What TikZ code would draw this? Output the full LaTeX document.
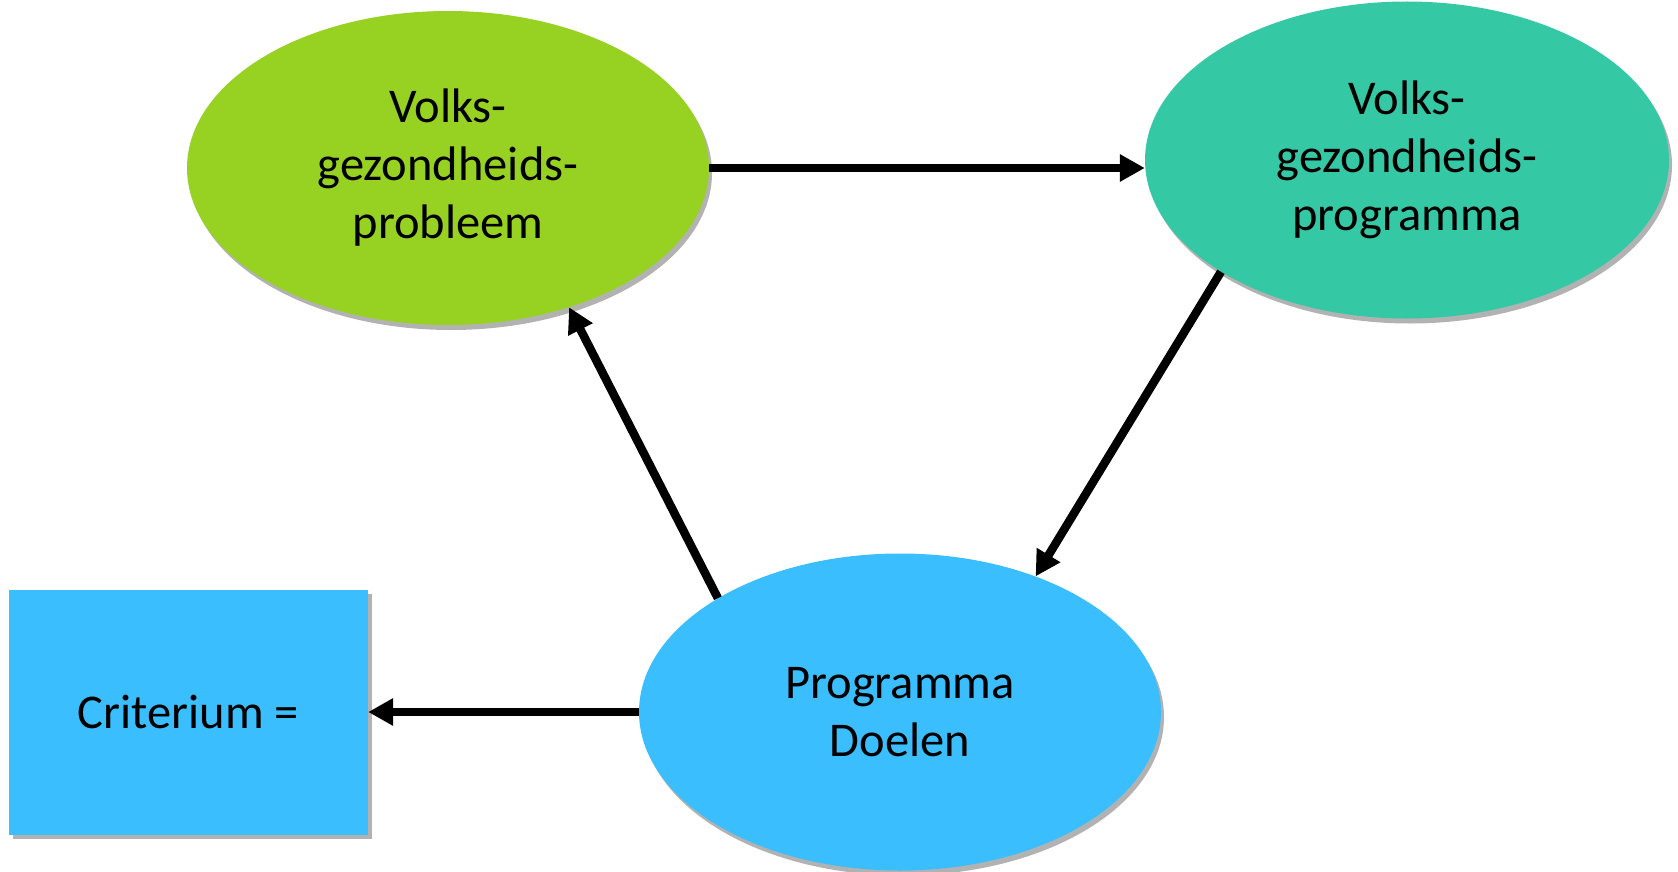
\documentclass[tikz,border=0pt]{standalone}
\usepackage{fontspec}
\setmainfont{Carlito}
\usetikzlibrary{shapes.geometric,arrows.meta,shadows}
\definecolor{cgreen}{RGB}{151,210,35}
\definecolor{cteal}{RGB}{52,200,165}
\definecolor{cblue}{RGB}{59,190,253}
\tikzset{
  bubble/.style={ellipse, inner sep=0pt, draw=none, align=center,
    font=\fontsize{48.5}{58}\selectfont,
    drop shadow={shadow xshift=3pt, shadow yshift=-5pt, fill=black, opacity=0.3}},
  boxnode/.style={rectangle, inner sep=0pt, draw=none, fill=cblue, align=center,
    minimum width=359pt, minimum height=245pt,
    font=\fontsize{48.5}{58}\selectfont,
    drop shadow={shadow xshift=4pt, shadow yshift=-4pt, fill=black, opacity=0.3}},
  link/.style={line width=8.5pt, -{Triangle[length=25pt,width=26pt]}}
}
\begin{document}
\begin{tikzpicture}[x=1pt,y=-1pt]
\useasboundingbox (0,0) rectangle (1678,872);
\node[bubble, fill=cgreen, minimum width=522pt, minimum height=314pt] (prob) at (448,168)
  {Volks-\\gezondheids-\\probleem};
\node[bubble, fill=cteal, minimum width=524pt, minimum height=317pt] (prog) at (1407,160)
  {Volks-\\gezondheids-\\programma};
\node[bubble, fill=cblue, minimum width=522pt, minimum height=317pt] (doel) at (900,712)
  {Programma\\Doelen};
\node[boxnode] (crit) at (188.5,712) {Criterium =};
\draw[link] (prob.east) -- (prob.east -| prog.west);
\draw[link] (prog.211) -- (doel.45);
\draw[link] (doel.148) -- (prob.-49);
\draw[link] (doel.west) -- (crit.east);
\end{tikzpicture}
\end{document}
